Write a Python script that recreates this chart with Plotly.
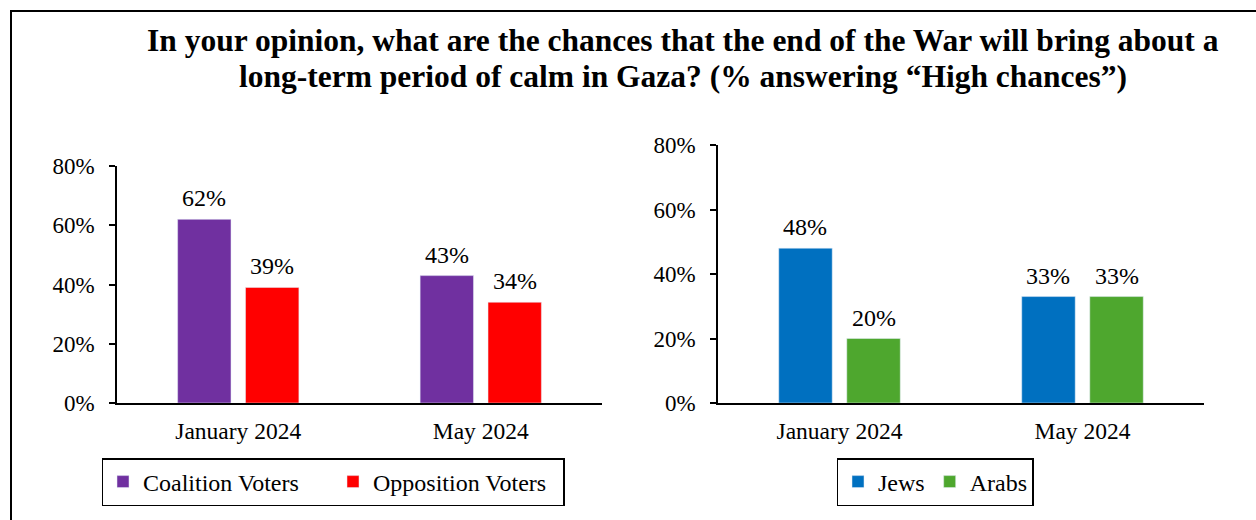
import plotly.graph_objects as go

W, H = 1256, 520

categories = ["January 2024", "May 2024"]
coalition = [62, 43]
opposition = [39, 34]
jews = [48, 33]
arabs = [20, 33]
y_ticks = [0, 20, 40, 60, 80]
y_ticktext = ["0%", "20%", "40%", "60%", "80%"]

title_lines = ["In your opinion, what are the chances that the end of the War will bring about a",
               "long-term period of calm in Gaza? (% answering “High chances”)"]

FONT = "Liberation Serif"
fs_tick = 23
fs_cat = 23.5
fs_lab = 24
fs_leg = 24

BAR_W = 0.22
OFFS = [-0.25, 0.03]

def px(x):
    return x / W

def py(y):
    return 1 - y / H

fig = go.Figure()
annotations = []

def add_bar(name, vals, color, xa, ya, legend, k):
    fig.add_trace(go.Bar(
        x=categories, y=vals, name=name, marker_color=color,
        xaxis=xa, yaxis=ya, legend=legend,
        width=BAR_W, offset=OFFS[k],
    ))
    for i, v in enumerate(vals):
        annotations.append(dict(
            x=i + OFFS[k] + BAR_W / 2, y=v, xref=xa, yref=ya,
            text=f"{v}%", showarrow=False, yanchor="bottom", yshift=6,
            font=dict(size=fs_lab, color="black", family=FONT)))

add_bar("Coalition Voters", coalition, "#7030A0", "x", "y", "legend", 0)
add_bar("Opposition Voters", opposition, "#FF0000", "x", "y", "legend", 1)
add_bar("Jews", jews, "#0070C0", "x2", "y2", "legend2", 0)
add_bar("Arabs", arabs, "#4EA72E", "x2", "y2", "legend2", 1)

for line, yc in zip(title_lines, [41, 76]):
    annotations.append(dict(
        x=px(683), y=py(yc), xref="paper", yref="paper", xanchor="center", yanchor="middle",
        text=line, showarrow=False,
        font=dict(size=31.5, family=FONT, color="black", weight="bold")))

def xaxis(dom, anchor):
    return dict(domain=dom, anchor=anchor, ticks="", ticklabelstandoff=6,
                showline=True, linecolor="black", linewidth=1.5,
                showgrid=False, zeroline=False,
                tickfont=dict(size=fs_cat, color="black", family=FONT))

def yaxis(dom, anchor):
    return dict(domain=dom, range=[0, 80], anchor=anchor,
                tickvals=y_ticks, ticktext=y_ticktext, ticks="outside", ticklen=6,
                tickwidth=1.5, tickcolor="black", ticklabelstandoff=10,
                showline=True, linecolor="black", linewidth=1.5,
                showgrid=False, zeroline=False,
                tickfont=dict(size=fs_tick, color="black", family=FONT))

fig.update_layout(
    width=W, height=H,
    margin=dict(l=0, r=0, t=0, b=0, autoexpand=False),
    paper_bgcolor="white", plot_bgcolor="white",
    font=dict(family=FONT, color="black", size=fs_tick),
    barmode="group",
    xaxis=xaxis([px(117), px(602)], "y"),
    yaxis=yaxis([py(403), py(166)], "x"),
    xaxis2=xaxis([px(718), px(1204)], "y2"),
    yaxis2=yaxis([py(403), py(145)], "x2"),
    legend=dict(orientation="h", x=px(333), y=py(482), xanchor="center", yanchor="middle",
                bordercolor="black", borderwidth=1.5, entrywidth=185,
                font=dict(size=fs_leg, family=FONT)),
    legend2=dict(orientation="h", x=px(935), y=py(482), xanchor="center", yanchor="middle",
                 bordercolor="black", borderwidth=1.5,
                 font=dict(size=fs_leg, family=FONT)),
    showlegend=True,
    annotations=annotations,
    shapes=[dict(type="rect", xref="paper", yref="paper",
                 x0=px(11), x1=1.02, y0=-0.05, y1=py(11),
                 line=dict(color="black", width=2), fillcolor="rgba(0,0,0,0)")],
)

fig.write_html("out.html")
